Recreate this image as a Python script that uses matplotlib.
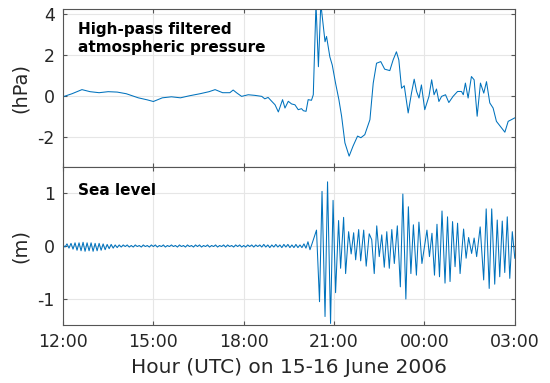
"""
Meteotsunami event, 15-16 June 2006: high-pass filtered air pressure
and sea level, two stacked panels on a shared time axis.
"""

import numpy as np
import matplotlib.pyplot as plt


# =========================================================
# DATA
# =========================================================

# Pressure: time in hours since 00:00 on 15 June, values in hPa
pres_hour = [12.0, 12.3, 12.63, 12.9, 13.2, 13.5, 13.8, 14.1, 14.5, 14.8,
             15.0, 15.3, 15.6, 15.9, 16.2, 16.55, 16.85, 17.05, 17.3, 17.54,
             17.65, 17.76, 17.93, 18.15, 18.37, 18.6, 18.7, 18.81, 18.93, 19.04,
             19.15, 19.29, 19.37, 19.48, 19.59, 19.7, 19.81, 19.92, 19.98, 20.07,
             20.14, 20.25, 20.31, 20.4, 20.48, 20.56, 20.7, 20.75, 20.86, 20.94,
             21.05, 21.16, 21.25, 21.36, 21.5, 21.63, 21.78, 21.89, 22.02, 22.19,
             22.3, 22.41, 22.55, 22.68, 22.85, 22.96, 23.07, 23.15, 23.24, 23.33,
             23.46, 23.57, 23.66, 23.74, 23.82, 23.9, 24.01, 24.15, 24.24, 24.32,
             24.4, 24.48, 24.57, 24.7, 24.81, 24.95, 25.1, 25.23, 25.29, 25.36,
             25.45, 25.56, 25.65, 25.75, 25.86, 25.97, 26.06, 26.17, 26.28, 26.39,
             26.56, 26.67, 26.78, 27.0]
pres_hpa = [-0.05, 0.1, 0.3, 0.2, 0.15, 0.2, 0.18, 0.1, -0.1, -0.2,
            -0.28, -0.1, -0.05, -0.1, 0.0, 0.1, 0.2, 0.3, 0.15, 0.15,
            0.28, 0.15, -0.03, 0.05, 0.02, -0.03, -0.15, -0.08, -0.27, -0.44,
            -0.79, -0.19, -0.6, -0.27, -0.4, -0.44, -0.68, -0.63, -0.73, -0.76,
            -0.19, -0.22, 0.05, 4.5, 1.42, 4.5, 2.64, 2.9, 1.9, 1.5,
            0.61, -0.19, -1.0, -2.3, -2.95, -2.46, -1.97, -2.05, -1.9, -1.17,
            0.62, 1.59, 1.67, 1.3, 1.23, 1.75, 2.15, 1.75, 0.37, 0.49,
            -0.84, 0.13, 0.81, 0.21, -0.11, 0.53, -0.68, -0.03, 0.78, 0.05,
            0.33, -0.28, -0.03, 0.05, -0.33, -0.03, 0.21, 0.21, 0.05, 0.62,
            -0.11, 0.94, 0.78, -1.0, 0.62, 0.13, 0.69, -0.35, -0.6, -1.25,
            -1.57, -1.78, -1.25, -1.08]

# Sea level before the event: sampled every 4 minutes from 12:00 (m)
quiet_minutes = np.arange(0, 500, 4)
quiet_level = [0.02, -0.02, 0.04, -0.04, 0.05, -0.06, 0.06, -0.08, 0.06, -0.09,
               0.07, -0.10, 0.06, -0.09, 0.06, -0.10, 0.05, -0.09, 0.05, -0.08,
               0.04, -0.07, 0.03, -0.05, 0.03, -0.04, 0.02, -0.03, 0.02, -0.02,
               0.02, -0.01, 0.02, -0.02, 0.01, -0.02, 0.02, -0.01, 0.01, -0.02,
               0.02, -0.01, 0.01, -0.02, 0.02, -0.01, 0.02, -0.02, 0.01, -0.01,
               0.02, -0.02, 0.01, -0.01, 0.02, -0.01, 0.01, -0.02, 0.02, -0.01,
               0.01, -0.02, 0.02, -0.01, 0.01, -0.02, 0.02, -0.01, 0.02, -0.02,
               0.01, -0.01, 0.02, -0.02, 0.01, -0.01, 0.02, -0.02, 0.01, -0.01,
               0.02, -0.02, 0.02, -0.01, 0.01, -0.02, 0.02, -0.01, 0.02, -0.02,
               0.01, -0.02, 0.02, -0.01, 0.02, -0.02, 0.02, -0.01, 0.02, -0.02,
               0.03, -0.02, 0.02, -0.03, 0.02, -0.02, 0.03, -0.02, 0.02, -0.03,
               0.03, -0.02, 0.03, -0.03, 0.02, -0.03,
               0.03, -0.03, 0.02, -0.03, 0.04, -0.04, 0.08, -0.07, 0.04]

# Sea level during the event: peaks and troughs, minutes since 12:00 (m)
wave_minutes = [505, 511, 516, 522, 527, 533, 538, 543, 549, 553,
                559, 563, 569, 574, 579, 583, 589, 593, 599, 604,
                610, 615, 620, 625, 630, 635, 640, 645, 650, 655,
                660, 666, 672, 677, 683, 688, 693, 698, 704, 709,
                715, 725, 730, 735, 740, 745, 750, 755, 761, 766,
                771, 776, 781, 786, 791, 798, 803, 808, 814, 819,
                824, 831, 838, 843, 849, 854, 860, 865, 870, 875,
                880, 885, 890, 895, 900]
wave_level = [0.3, -1.05, 1.03, -1.33, 1.21, -1.46, 0.86, -0.88, 0.48, -0.42,
              0.54, -0.52, 0.27, -0.15, 0.25, -0.26, 0.31, -0.28, 0.3, -0.38,
              0.23, 0.12, -0.52, 0.38, -0.2, 0.21, -0.4, 0.27, -0.42, 0.31,
              -0.33, 0.38, -0.77, 0.98, -1.0, 0.74, -0.52, 0.4, -0.55, 0.45,
              -0.33, 0.3, -0.2, 0.24, -0.55, 0.41, -0.58, 0.66, -0.7, 0.55,
              -0.67, 0.46, -0.39, 0.43, -0.52, 0.32, -0.23, 0.16, -0.14, 0.15,
              -0.2, 0.36, -0.64, 0.7, -0.8, 0.7, -0.72, 0.49, -0.58, 0.47,
              -0.5, 0.55, -0.61, 0.27, -0.23]

tick_hours = [12, 15, 18, 21, 24, 27]
tick_labels = ["12:00", "15:00", "18:00", "21:00", "00:00", "03:00"]

sea_hour = 12 + np.concatenate([quiet_minutes, wave_minutes]) / 60.0
sea_m = np.concatenate([quiet_level, wave_level])


# =========================================================
# FIGURE
# =========================================================

line_col = "#0072BD"
text_col = "#262626"

plt.rcParams["font.family"] = "DejaVu Sans"
plt.rcParams["axes.unicode_minus"] = False

fig = plt.figure(figsize=(5.5, 3.83), dpi=100)
ax1 = fig.add_axes([0.1145, 0.564, 0.8215, 0.4125])
ax2 = fig.add_axes([0.1145, 0.1514, 0.8215, 0.4126])

ax1.plot(pres_hour, pres_hpa, color=line_col, lw=0.75)
ax2.plot(sea_hour, sea_m, color=line_col, lw=0.75)

ax1.set_ylim(-3.48, 4.24)
ax1.set_yticks([-2, 0, 2, 4])
ax2.set_ylim(-1.49, 1.49)
ax2.set_yticks([-1, 0, 1])

for ax in (ax1, ax2):
    ax.set_xlim(12, 27)
    ax.set_xticks(tick_hours)
    ax.grid(True, color="#e6e6e6", lw=0.8)
    ax.set_axisbelow(True)
    ax.tick_params(direction="in", top=True, right=True, length=3, pad=6,
                   colors="#555555", labelcolor=text_col, labelsize=12.5)
    for s in ax.spines.values():
        s.set_color("#555555")
        s.set_linewidth(0.8)

ax1.set_xticklabels([])
ax2.set_xticklabels(tick_labels)

ax1.set_ylabel("(hPa)", fontsize=14, color=text_col, labelpad=5)
ax2.set_ylabel("(m)", fontsize=14, color=text_col, labelpad=5)
ax2.set_xlabel("Hour (UTC) on 15-16 June 2006", fontsize=14.5, color=text_col,
               labelpad=5)

ax1.text(0.033, 0.915, "High-pass filtered\natmospheric pressure",
         transform=ax1.transAxes, ha="left", va="top", fontsize=11,
         fontweight="bold", color="black", linespacing=1.25)
ax2.text(0.033, 0.9, "Sea level", transform=ax2.transAxes, ha="left",
         va="top", fontsize=11, fontweight="bold", color="black")

fig.savefig("out.png", dpi=100)
